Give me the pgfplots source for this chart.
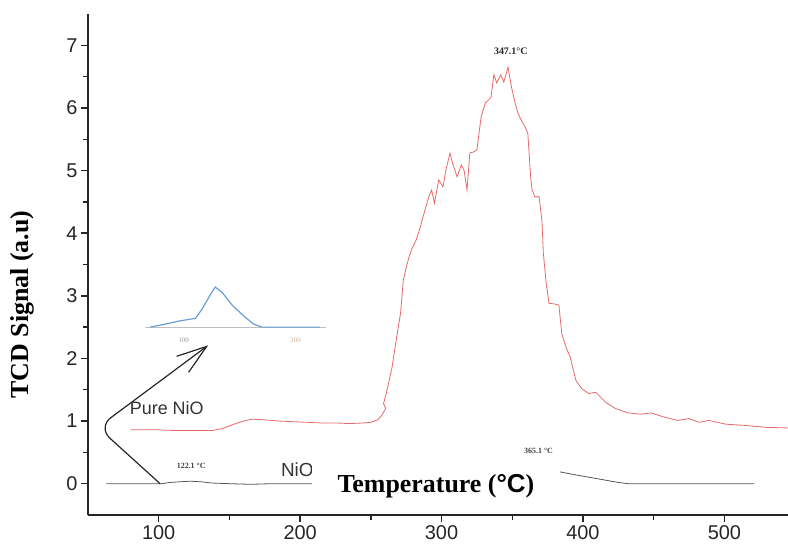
\documentclass[border=0pt]{standalone}
\usepackage{fontspec}
\setmainfont{Liberation Serif}
\setsansfont{Liberation Sans}
\usepackage{pgfplots}
\pgfplotsset{compat=1.18}
\usetikzlibrary{arrows.meta}

\definecolor{tcdred}{HTML}{E8686A}
\definecolor{tcdblue}{HTML}{6A9FD6}
\definecolor{tcdgray}{HTML}{555555}

\begin{document}
\begin{tikzpicture}
  \begin{axis}[
      at={(0,0)}, anchor=south west,
      width=700bp, height=501bp, scale only axis,
      xmin=50, xmax=545, ymin=-0.5, ymax=7.5,
      axis lines*=left,
      axis line style={line width=2pt, color=black!85},
      tick align=outside,
      major tick length=7bp, minor tick length=5bp,
      tick style={line width=1.5pt, color=black!85},
      xtick={100,200,...,500}, ytick={0,...,7},
      minor x tick num=1, minor y tick num=1,
      /pgf/number format/assume math mode=true,
      ticklabel style={font=\fontsize{20}{20}\selectfont\sffamily, text=black!85},
      xlabel={Temperature ({\sffamily °C})},
      ylabel={TCD Signal (a.u)},
      label style={font=\fontsize{26}{26}\selectfont\bfseries},
      xlabel style={at={(rel axis cs:0.497,0.058)}, anchor=center, fill=white,
        minimum width=248bp, minimum height=45bp, inner sep=0pt},
      ylabel style={at={(rel axis cs:-0.094,0.42)}, anchor=center},
      clip=false,
    ]
    % Pure NiO
    \addplot[tcdred, line width=0.8pt] coordinates {
      (80,0.86) (90,0.86) (100,0.86) (110,0.85) (120,0.85) (130,0.85) (138,0.85)
      (145,0.88) (152,0.94) (160,1.0) (166,1.03) (175,1.02) (185,1.0) (195,0.99)
      (205,0.98) (215,0.97) (225,0.97) (235,0.96) (245,0.97) (250,0.98) (255,1.02)
      (258,1.1) (260.5,1.2) (259,1.28) (261,1.45) (263,1.65) (265,1.86) (268,2.3)
      (271,2.72) (273,3.25) (275,3.45) (277,3.62) (279,3.75) (282,3.89) (285,4.1)
      (288,4.35) (291,4.58) (293,4.69) (295,4.48) (298,4.85) (301,4.74) (303,5.0)
      (306,5.28) (308,5.1) (311,4.9) (314,5.09) (316,5.0) (318,4.69) (320,5.28)
      (323,5.3) (325,5.33) (328,5.86) (331,6.08) (335,6.17) (337,6.53) (339,6.4)
      (342,6.53) (344,6.41) (347,6.65) (349.5,6.33) (352,6.08) (354,5.92)
      (356.5,5.8) (359,5.7) (361,5.6) (363,4.9) (364,4.69) (366,4.58) (369,4.58)
      (371,4.2) (372,3.68) (374,3.2) (376,2.88) (380,2.87) (383,2.85) (385,2.4)
      (388,2.18) (391,2.02) (395,1.65) (399,1.52) (404,1.44) (409,1.46) (416,1.3)
      (423,1.2) (432,1.13) (441,1.11) (448,1.13) (458,1.06) (467,1.01) (475,1.04)
      (482,0.98) (489,1.01) (501,0.95) (515,0.93) (529,0.9) (545,0.89)
    };
    % second sample (baseline)
    \addplot[tcdgray, line width=0.8pt] coordinates {
      (63,0) (80,0) (95,0) (102,0) (108,0.02) (115,0.03) (122,0.04) (130,0.03)
      (138,0.01) (150,0) (165,-0.01) (180,0) (200,0) (220,0) (260,0.01) (300,0.03)
      (330,0.1) (350,0.2) (365,0.28) (375,0.25) (381,0.2) (395,0.14) (410,0.08)
      (425,0.02) (432,0) (460,0) (490,0) (521,0)
    };
    % inset
    \draw[black!25, line width=0.6pt] (axis cs:90,2.5) -- (axis cs:218,2.5);
    \addplot[tcdblue, line width=1.2pt] coordinates {
      (94,2.5) (105,2.55) (115,2.6) (126,2.64) (131,2.8) (136,3.0) (140,3.14)
      (145,3.05) (152,2.85) (160,2.68) (167,2.55) (173,2.5) (190,2.5) (214,2.5)
    };
    \node[font=\fontsize{7}{7}\selectfont, text=black!40] at (axis cs:117.7,2.29) {100};
    \node[font=\fontsize{7}{7}\selectfont, text=orange!50!black!40] at (axis cs:196.8,2.29) {200};

    \draw[black!85, line width=1.2pt, rounded corners=16bp,
      -{Straight Barb[length=30bp, width=20bp, line width=1.2pt]}]
      (axis cs:101,0) -- (axis cs:57,0.9) -- (axis cs:135,2.21);

    \node[font=\fontsize{18}{18}\selectfont\sffamily, text=black!80] at (axis cs:105.7,1.21) {Pure NiO};
    \node[font=\fontsize{19}{19}\selectfont\sffamily, text=black!80, anchor=west] at (axis cs:184,0.22) {NiO};
    \node[font=\fontsize{8}{8}\selectfont\bfseries, text=black!75] at (axis cs:123,0.28) {122.1 °C};
    \node[font=\fontsize{8}{8}\selectfont\bfseries, text=black!75] at (axis cs:368.6,0.52) {365.1 °C};
    \node[font=\fontsize{10}{10}\selectfont\bfseries, text=black!85] at (axis cs:349,6.9) {347.1°C};
  \end{axis}
  \pgfresetboundingbox
  \path (-88bp,-35bp) rectangle (700bp,515bp);
\end{tikzpicture}
\end{document}
